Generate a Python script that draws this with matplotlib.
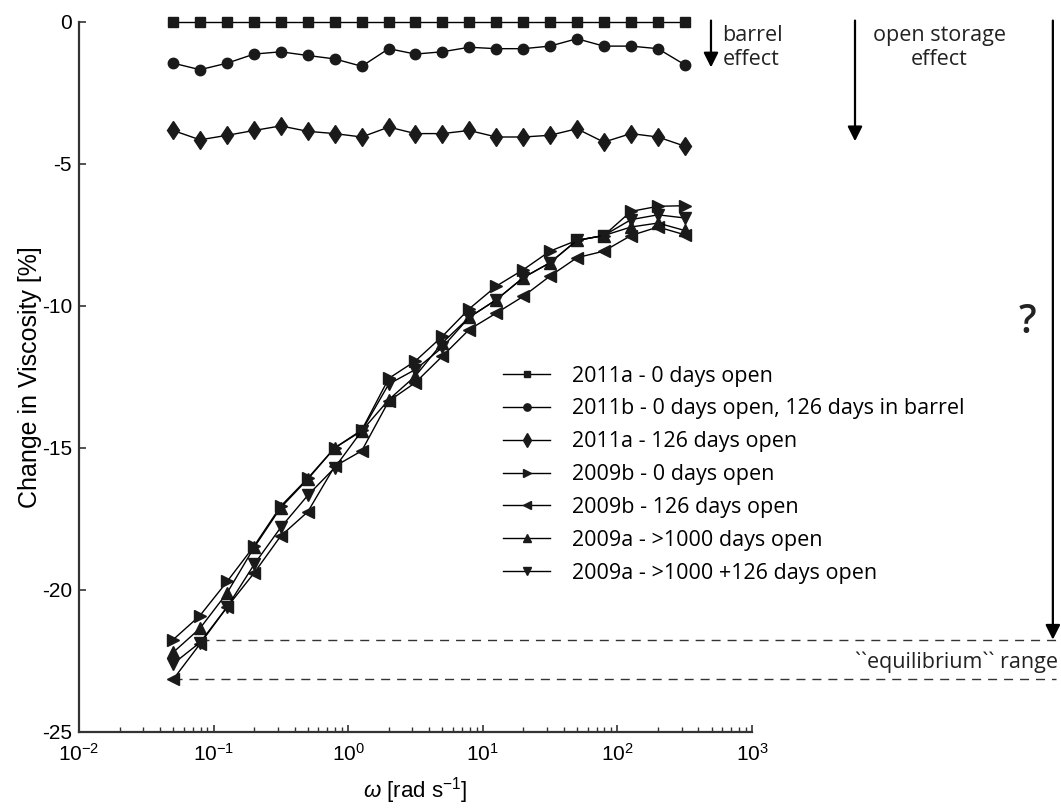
import numpy as np
import matplotlib
matplotlib.use("Agg")
import matplotlib.pyplot as plt
from matplotlib.transforms import blended_transform_factory

plt.rcParams['axes.unicode_minus'] = False
plt.rcParams['font.family'] = 'Liberation Sans'
plt.rcParams['mathtext.fontset'] = 'custom'
plt.rcParams['mathtext.rm'] = 'Liberation Sans'
plt.rcParams['mathtext.it'] = 'Liberation Sans:italic'

# angular frequency [rad/s]
omega = [0.05, 0.0792, 0.126, 0.2, 0.315, 0.5, 0.792, 1.26, 2.0, 3.15,
         5.0, 7.92, 12.6, 20.0, 31.5, 50.0, 79.2, 126, 200, 315]

# change in viscosity [%]
a2011_0 = [0.0] * 20
b2011_0 = [-1.45, -1.68, -1.45, -1.13, -1.05, -1.18, -1.30, -1.56, -0.94, -1.13,
           -1.05, -0.89, -0.94, -0.94, -0.85, -0.59, -0.85, -0.85, -0.94, -1.50]
a2011_126 = [-3.82, -4.15, -3.99, -3.82, -3.66, -3.85, -3.93, -4.05, -3.70, -3.93,
             -3.93, -3.82, -4.05, -4.05, -3.99, -3.76, -4.23, -3.93, -4.05, -4.37]
b2009_0 = [-21.75, -20.9, -19.7, -18.45, -17.05, -16.07, -15.0, -14.37, -12.55, -11.94,
           -11.07, -10.1, -9.3, -8.72, -8.07, -7.69, -7.52, -6.67, -6.49, -6.47]
b2009_126 = [-23.15, -21.9, -20.6, -19.4, -18.1, -17.25, -15.65, -15.1, -13.35, -12.7,
             -11.77, -10.83, -10.25, -9.66, -8.95, -8.3, -8.07, -7.52, -7.22, -7.49]
a2009_1000 = [-22.2, -21.35, -20.1, -18.5, -17.1, -16.1, -15.0, -14.4, -13.3, -12.47,
              -11.3, -10.4, -9.78, -9.0, -8.48, -7.69, -7.52, -7.22, -7.08, -7.34]
a2009_1126 = [-22.6, -21.85, -20.6, -19.1, -17.8, -16.67, -15.7, -14.4, -12.75, -12.24,
              -11.46, -10.4, -9.78, -9.0, -8.48, -7.69, -7.52, -6.96, -6.79, -6.9]

series = [
    (a2011_0, 's', 6.5, '2011a - 0 days open'),
    (b2011_0, 'o', 7.5, '2011b - 0 days open, 126 days in barrel'),
    (a2011_126, 'd', 9.5, '2011a - 126 days open'),
    (b2009_0, '>', 9, '2009b - 0 days open'),
    (b2009_126, '<', 9, '2009b - 126 days open'),
    (a2009_1000, '^', 9, '2009a - >1000 days open'),
    (a2009_1126, 'v', 9, '2009a - >1000 +126 days open'),
]

fig = plt.figure(figsize=(10.61, 8.08), dpi=100)
ax = fig.add_axes([0.0745, 0.0941, 0.6343, 0.8787])

for y, mk, ms, lab in series:
    ax.plot(omega, y, color='black', lw=1.0, marker=mk, markersize=ms,
            markerfacecolor='#1a1a1a', markeredgecolor='#1a1a1a',
            label=lab, clip_on=False, zorder=3)

ax.set_xscale('log')
ax.set_xlim(1e-2, 1e3)
ax.set_ylim(-25, 0)
ax.set_yticks([0, -5, -10, -15, -20, -25])
ax.set_yticklabels(['0', '-5', '-10', '-15', '-20', '-25'])
for s in ['top', 'right']:
    ax.spines[s].set_visible(False)
for s in ['left', 'bottom']:
    ax.spines[s].set_linewidth(1.6)
    ax.spines[s].set_color('#333333')
ax.tick_params(which='major', direction='in', length=5, width=1.2,
               labelsize=15, colors='#333333', labelcolor='black')
ax.tick_params(axis='x', which='major', pad=8)
ax.tick_params(axis='y', which='major', pad=5)
ax.tick_params(which='minor', direction='in', length=3.5, width=1.0,
               colors='#333333')
ax.set_xlabel(r'$\omega$ [rad s$^{-1}$]', fontsize=16, labelpad=7)
ax.set_ylabel('Change in Viscosity [%]', fontsize=18, labelpad=0)

ax.legend(loc='upper left', bbox_to_anchor=(0.630, 0.516), frameon=False,
          prop={'family': 'Open Sans', 'size': 15.5}, handlelength=2.2,
          handletextpad=1.0, labelspacing=0.55, borderpad=0, borderaxespad=0,
          markerscale=0.7)

# annotations to the right of the data
ann = dict(xycoords=('axes fraction', 'data'), textcoords=('axes fraction', 'data'))
arrow = dict(arrowstyle='-|>', mutation_scale=22, lw=1.6, color='black',
             shrinkA=0, shrinkB=0)
ax.annotate('', xy=(0.939, -1.6), xytext=(0.939, 0.05), arrowprops=arrow,
            annotation_clip=False, **ann)
ax.annotate('', xy=(1.153, -4.2), xytext=(1.153, 0.05), arrowprops=arrow,
            annotation_clip=False, **ann)
ax.annotate('', xy=(1.447, -21.75), xytext=(1.447, 0.05), arrowprops=arrow,
            annotation_clip=False, **ann)

tr = blended_transform_factory(ax.transAxes, ax.transData)
txt = dict(family='Open Sans', fontsize=15.5, color='#222222')
ax.text(0.956, -0.9, 'barrel\neffect', transform=tr, ha='left', va='center',
        linespacing=1.15, **txt)
ax.text(1.278, -0.9, 'open storage\neffect', transform=tr, ha='center',
        va='center', linespacing=1.15, **txt)
ax.text(1.409, -10.6, '?', transform=tr, ha='center', va='center',
        family='Open Sans', fontsize=28, fontweight='semibold', color='#222222')

# equilibrium range from the lowest-frequency points
first = [s[0][0] for s in series[3:]]
x0 = (np.log10(omega[0]) + 2) / 5
x1 = (np.log10(omega[1]) + 2) / 5
ax.plot([x1, 1.452], [max(first)] * 2, transform=tr, color='#333333', lw=1.0,
        dashes=(6.5, 5), clip_on=False, zorder=1)
ax.plot([x0, 1.452], [min(first)] * 2, transform=tr, color='#333333', lw=1.0,
        dashes=(6.5, 5), clip_on=False, zorder=1)
ax.text(1.454, -22.55, '``equilibrium`` range', transform=tr, ha='right',
        va='center', **txt)

fig.savefig('out.png', dpi=100)
